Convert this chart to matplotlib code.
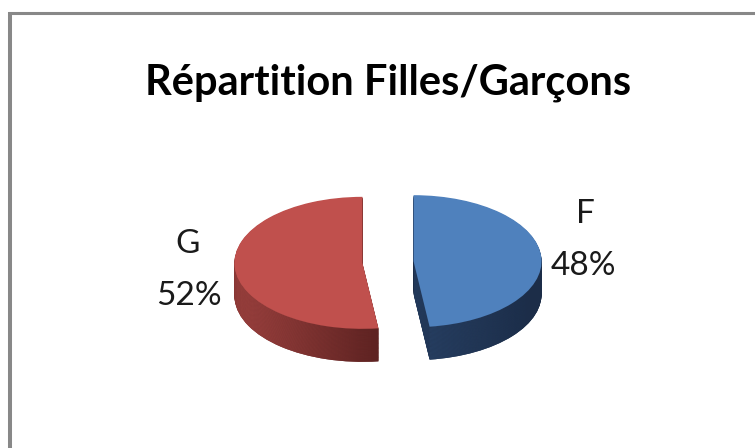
import numpy as np
import matplotlib
matplotlib.use('Agg')
import matplotlib.pyplot as plt
from matplotlib.colors import LinearSegmentedColormap
from matplotlib.lines import Line2D

# ---- data ----
labels = ['F', 'G']
values = [48, 52]
title = 'Répartition Filles/Garçons'

# ---- style ----
top_colors = ['#4F81BD', '#C0504D']
side_left = ['#2A4469', '#AD4A47']
side_right = ['#1C2D48', '#5E2322']

W, H = 755, 448
fig = plt.figure(figsize=(W / 100, H / 100), dpi=100)
ax = fig.add_axes([0, 0, 1, 1])

# pixel -> data mapping (pie centre at px (388, 262), radius 128 px wide, 66 px tall)
cx, cy, sx, sy = 388, 262, 128, 66


def X(px):
    return (px - cx) / sx


def Y(py):
    return (cy - py) / sy


depth = 0.5
n = 40
explode = [0.2, 0.2]
grad = np.linspace(0, 1, 256).reshape(1, -1)
for k in range(n, 0, -1):
    off = -depth * k / n
    z = 2 * (n - k) + 1
    wedges, _ = ax.pie(values, startangle=90, counterclock=False, explode=explode,
                       center=(0, off), colors=side_right,
                       wedgeprops=dict(linewidth=0))
    for w, cl, cr in zip(wedges, side_left, side_right):
        w.set_zorder(z)
        bb = w.get_path().get_extents()
        cmap = LinearSegmentedColormap.from_list('g', [cl, cr])
        im = ax.imshow(grad, cmap=cmap, aspect='auto', interpolation='bilinear',
                       extent=(bb.x0, bb.x1, bb.y0, bb.y1), zorder=z + 0.5)
        im.set_clip_path(w)

top_wedges, _ = ax.pie(values, startangle=90, counterclock=False, explode=explode,
                       colors=top_colors, wedgeprops=dict(linewidth=0))
for w in top_wedges:
    w.set_zorder(1000)

ax.set_xlim(X(0), X(W))
ax.set_ylim(Y(H), Y(0))
ax.set_aspect('auto')
ax.axis('off')

# ---- texts ----
total = sum(values)
label_pos = {'F': (585, 223, 583, 275), 'G': (188, 253, 189, 305)}
for lab, v in zip(labels, values):
    x1, y1, x2, y2 = label_pos[lab]
    fig.text(x1 / W, 1 - y1 / H, lab, ha='center', va='baseline', fontsize=24,
             family='Lato', color='#1a1a1a')
    fig.text(x2 / W, 1 - y2 / H, f'{round(v / total * 100)}%', ha='center',
             va='baseline', fontsize=24, family='Lato', color='#1a1a1a')

fig.text(388 / W, 1 - 95 / H, title, ha='center', va='baseline', fontsize=30,
         family='Lato', fontweight='bold', color='#000000')

# ---- frame ----
fig.add_artist(Line2D([10 / W, 10 / W], [1 - 12 / H, 0], transform=fig.transFigure,
                      color='#888888', linewidth=2.9, solid_capstyle='butt'))
fig.add_artist(Line2D([8 / W, 1], [1 - 13.5 / H, 1 - 13.5 / H], transform=fig.transFigure,
                      color='#888888', linewidth=2.2, solid_capstyle='butt'))

fig.savefig('out.png', dpi=100)
